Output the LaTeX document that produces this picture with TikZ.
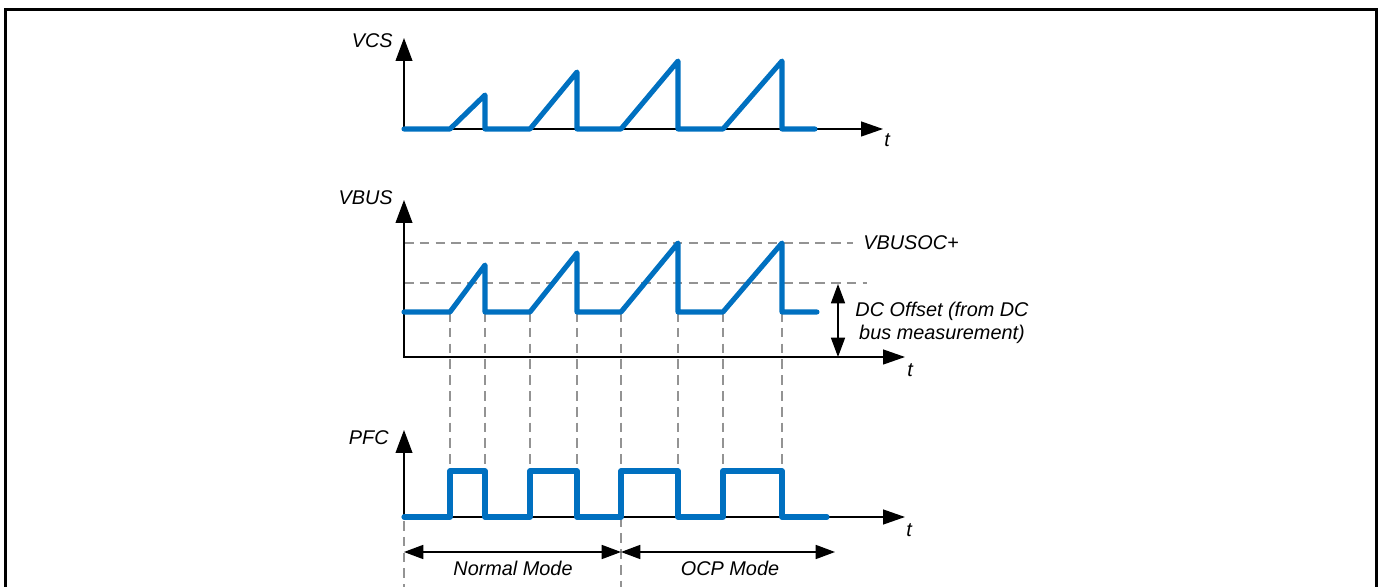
\documentclass[tikz,border=0pt]{standalone}
\usepackage{fontspec}
\setmainfont{Liberation Sans}
\usetikzlibrary{arrows.meta}

\definecolor{signalblau}{RGB}{0,112,192}

\tikzset{
  achse/.style={line width=0.8pt, {Triangle[length=13pt,width=9.5pt]}-{Triangle[length=12.5pt,width=8.5pt]}},
  signal/.style={signalblau, line width=2.9pt, line join=round, line cap=round},
  hilfslinie/.style={gray!85, line width=0.9pt, dash pattern=on 5.5pt off 3.5pt},
  beschriftung/.style={font=\fontsize{11.3}{13}\selectfont\itshape, inner sep=0pt},
  massband/.style={line width=0.8pt, {Triangle[length=11pt,width=8pt]}-{Triangle[length=11pt,width=8pt]}},
}

\begin{document}
\begin{tikzpicture}[x=0.02cm, y=-0.02cm]
  \useasboundingbox (0,0) rectangle (1380,587);

  % Rahmen
  \draw[line width=1.6pt] (5.3,600) -- (5.3,9.5) -- (1376.5,9.5) -- (1376.5,600);

  % Achsenpunkte
  \coordinate (vcs0) at (404,129);
  \coordinate (vcsY) at (404,38);
  \coordinate (vcsX) at (883,129);
  \coordinate (bus0) at (404,357);
  \coordinate (busY) at (404,200);
  \coordinate (busX) at (905,357);
  \coordinate (pfc0) at (404,517);
  \coordinate (pfcY) at (404,430);
  \coordinate (pfcX) at (905,517);

  % Hilfslinien (gestrichelt)
  \draw[hilfslinie] (404,243) -- (853,243);
  \draw[hilfslinie] (404,283) -- (867,283);
  \foreach \x in {450,485,530,577,678,723,782}
    \draw[hilfslinie] (\x,312) -- (\x,471);
  \draw[hilfslinie] (621,312) -- (621,595);
  \draw[hilfslinie] (404,521) -- (404,595);

  % Achsen
  \draw[achse] (vcsY) -- (vcs0) -- (vcsX);
  \draw[achse] (busY) -- (bus0) -- (busX);
  \draw[achse] (pfcY) -- (pfc0) -- (pfcX);

  % Signale
  \draw[signal] (404,129) -- (450,129) -- (485,95) -- (485,129) -- (530,129) -- (577,72) -- (577,129)
    -- (621,129) -- (678,61) -- (678,129) -- (723,129) -- (782,61) -- (782,129) -- (815,129);
  \draw[signal] (404,312) -- (450,312) -- (485,265) -- (485,312) -- (530,312) -- (577,253) -- (577,312)
    -- (621,312) -- (678,243) -- (678,312) -- (723,312) -- (782,243) -- (782,312) -- (817,312);
  \draw[signal] (404,517) -- (450,517) -- (450,471) -- (485,471) -- (485,517) -- (530,517) -- (530,471)
    -- (577,471) -- (577,517) -- (621,517) -- (621,471) -- (678,471) -- (678,517) -- (723,517)
    -- (723,471) -- (782,471) -- (782,517) -- (827,517);

  % Beschriftung der Achsen
  \node[beschriftung, anchor=east] (vcsL) at (393,41) {VCS};
  \node[beschriftung, anchor=east] (busL) at (393,198) {VBUS};
  \node[beschriftung, anchor=east] (pfcL) at (389,438) {PFC};
  \node[beschriftung] (vcsT) at (887,140) {t};
  \node[beschriftung] (busT) at (910,370) {t};
  \node[beschriftung] (pfcT) at (909,530) {t};

  % Schwelle und Offset
  \node[beschriftung, anchor=west] (ocL) at (863,243) {VBUSOC+};
  \coordinate (offOben) at (838,284);
  \coordinate (offUnten) at (838,357);
  \draw[massband] (offOben) -- (offUnten);
  \node[beschriftung, align=center] (offL) at (942,323) {DC Offset (from DC\\bus measurement)};

  % Betriebsarten
  \coordinate (modeA) at (404,552);
  \coordinate (modeB) at (621,552);
  \coordinate (modeC) at (835,552);
  \draw[massband] (modeA) -- (modeB);
  \draw[massband] (modeB) -- (modeC);
  \node[beschriftung] (normalL) at (513,568) {Normal Mode};
  \node[beschriftung] (ocpL) at (730,568) {OCP Mode};
\end{tikzpicture}
\end{document}
